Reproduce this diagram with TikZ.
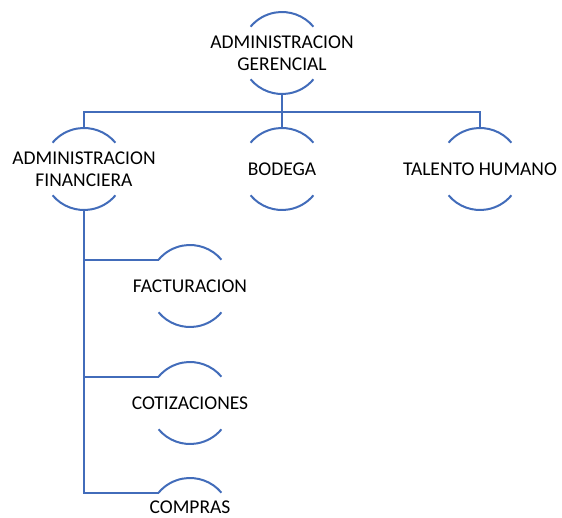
\documentclass[tikz,border=0pt]{standalone}
\usepackage{fontspec}
\setmainfont{Carlito}
\usetikzlibrary{positioning}
\definecolor{lineblue}{RGB}{66,108,186}

\begin{document}
\begin{tikzpicture}[x=1pt,y=-1pt,line width=2pt,
                    font=\fontsize{19.5}{22}\selectfont,node distance=35pt]
  \tikzstyle{unit}=[circle,minimum size=82pt,inner sep=0pt,outer sep=0pt,draw=none]
  \tikzstyle{link}=[draw=lineblue]
  \tikzstyle{rim}=[draw=lineblue]

  \useasboundingbox (0,0) rectangle (562,517);
  \clip (0,0) rectangle (562,517);

  \node[unit,label={[align=center]center:ADMINISTRACION\\GERENCIAL}] (ger) at (282,53) {};
  \node[unit,label=center:BODEGA] (bod) at (282,169) {};
  \node[unit,label={[align=center]center:ADMINISTRACION\\FINANCIERA}] (fin) [left=116pt of bod] {};
  \node[unit,label=center:TALENTO HUMANO] (tal) [right=116pt of bod] {};
  \node[unit,label=center:FACTURACION] (fac) at (190,286) {};
  \node[unit,label=center:COTIZACIONES] (cot) [below=35pt of fac] {};
  \node[unit,label={[yshift=12pt]center:COMPRAS}] (com) [below=34pt of cot] {};

  % circle rims
  \foreach \n in {ger,bod,fin,tal,fac,cot,com}
    \draw[rim] (\n.40) arc[start angle=40,end angle=140,radius=41pt];
  \foreach \n in {ger,bod,fin,tal,fac,cot}
    \draw[rim] (\n.220) arc[start angle=220,end angle=320,radius=41pt];

  \coordinate (bus) at (282,112);
  \draw[link] (ger.south) -- (bod.north);
  \draw[link] (fin.north) |- (bus) -| (tal.north);
  \foreach \n in {fac,cot,com}
    \draw[link] (fin.south) |- (\n.140);

\end{tikzpicture}
\end{document}
